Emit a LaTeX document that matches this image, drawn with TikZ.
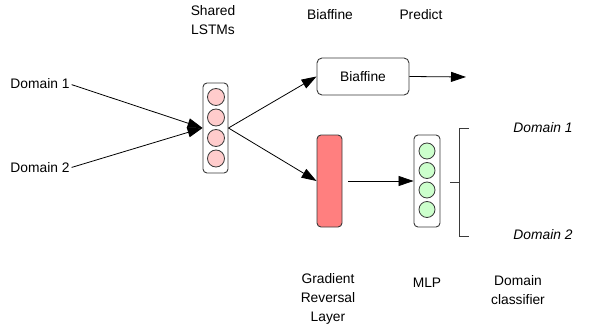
\documentclass[tikz,border=0pt]{standalone}
\usepackage{fontspec}
\setmainfont{Liberation Sans}
\usetikzlibrary{arrows.meta}
\definecolor{pinkfill}{HTML}{FFCCCC}
\definecolor{redfill}{HTML}{FF7F7F}
\definecolor{greenfill}{HTML}{CCFFCC}
\definecolor{edge}{HTML}{3A3A3A}
\begin{document}
\begin{tikzpicture}[x=1pt,y=-1pt,
  font=\fontsize{13.8}{19}\selectfont,
  lbl/.style={inner sep=0pt, align=center},
  stackbox/.style={draw=edge, line width=0.9pt, rounded corners=4pt, fill=white, minimum width=25pt, minimum height=90pt, inner sep=0pt},
  cell/.style={circle, draw=edge, line width=0.8pt, minimum size=17pt, inner sep=0pt},
  arr/.style={-{Triangle[length=15pt,width=10pt]}, line width=0.8pt},
  brk/.style={line width=0.8pt, draw=edge}]
\useasboundingbox (0,0) rectangle (589,329);
% inputs
\node[lbl] (d1) at (40,84) {Domain 1};
\node[lbl] (d2) at (40,168) {Domain 2};
% shared LSTMs
\node[stackbox] (lstm) at (215.5,128) {};
\foreach \y [count=\i] in {97,117.5,138,158.5}
  \node[cell, fill=pinkfill] (p\i) at (216,\y) {};
\node[lbl] (lstmlbl) at (213,20) {Shared\\LSTMs};
\draw[arr, shorten <=2pt] (d1.east) -- (lstm.west);
\draw[arr, shorten <=2pt] (d2.east) -- (lstm.west);
% biaffine
\node[draw=edge, line width=0.9pt, rounded corners=5pt, minimum width=92pt, minimum height=37pt, inner sep=0pt] (biaf) at (363,76.5) {Biaffine};
\coordinate (pred) at (466,77);
\draw[arr] (lstm.east) -- (biaf.west);
\draw[arr] (biaf.east) -- (pred);
\node[lbl] (biaflbl) at (330,15) {Biaffine};
\node[lbl] (predlbl) at (421,15) {Predict};
% gradient reversal
\node[draw=edge, line width=0.9pt, rounded corners=4pt, fill=redfill, minimum width=25pt, minimum height=92pt, inner sep=0pt] (grl) at (329.5,181) {};
\draw[arr] (lstm.east) -- (grl.west);
% MLP
\node[stackbox, minimum width=26pt, minimum height=92pt] (mlp) at (427,181) {};
\foreach \y [count=\i] in {151,170.5,190,209.5}
  \node[cell, fill=greenfill, minimum size=16pt] (g\i) at (427,\y) {};
\draw[arr, shorten <=6pt] (grl.east) -- (mlp.west);
% bracket
\coordinate (bm) at (450,182);
\coordinate (bmid) at (459,182);
\coordinate (btop) at (469,128);
\coordinate (bbot) at (469,236);
\draw[brk] (btop) -- (459,128) -- (459,236) -- (bbot);
\draw[brk] (bm) -- (bmid);
\node[lbl, font=\fontsize{13.8}{19}\selectfont\itshape] (o1) at (543,128) {Domain 1};
\node[lbl, font=\fontsize{13.8}{19}\selectfont\itshape] (o2) at (543,235) {Domain 2};
% bottom labels
\node[lbl] (grllbl) at (328,299) {Gradient\\Reversal\\Layer};
\node[lbl] (mlplbl) at (427,283) {MLP};
\node[lbl] (dclbl) at (518,290.5) {Domain\\classifier};
\end{tikzpicture}
\end{document}
